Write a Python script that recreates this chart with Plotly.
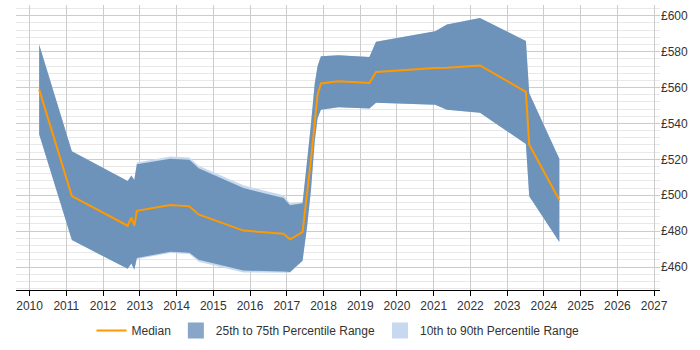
import plotly.graph_objects as go

years = [2010.26, 2011.15, 2012.67, 2012.77, 2012.85, 2012.92, 2013.83, 2014.35, 2014.60,
         2015.82, 2016.91, 2017.09, 2017.43, 2017.55, 2017.66, 2017.76, 2017.84, 2017.93,
         2018.41, 2019.25, 2019.43, 2021.04, 2021.36, 2022.26, 2023.51, 2023.60, 2024.42]

median = [559, 499.5, 483, 487.5, 483, 491.3, 494.5, 493.8, 489.3,
          480.3, 478.5, 475.4, 479.4, 500, 520, 540, 556, 562.3,
          563.5, 562.5, 568.7, 570.9, 571, 572.3, 557.6, 528.2, 497.3]

p25 = [534, 475, 459, 462, 458.5, 465, 468.5, 468, 464,
       458, 457.5, 457.2, 463.5, 482, 503, 530, 543, 547.7,
       549, 548.4, 551.6, 550.4, 547.7, 545.9, 528.6, 499.5, 473.9]

p75 = [584, 524.5, 508, 511, 508.5, 517.3, 520.4, 519.8, 515,
       504, 498.5, 494.4, 495.5, 517, 540, 562, 572, 577.4,
       578, 577, 585.5, 591.4, 595.1, 598.7, 586, 556.8, 520.4]

p10 = [534, 475, 459, 462, 458.5, 464.5, 467.8, 467.2, 463,
       457, 456.8, 456.8, 463.5, 482, 503, 530, 543, 547.7,
       549, 548.4, 551.6, 550.4, 547.7, 545.9, 528.6, 499.5, 473.9]

p90 = [584, 524.5, 508, 511, 508.5, 518.3, 521.6, 521.0, 516.5,
       505.5, 500.0, 495.6, 496.3, 517, 540, 562, 572, 577.4,
       578, 577, 585.5, 591.4, 595.1, 598.7, 586, 556.8, 520.4]

year_ticks = list(range(2010, 2028))
price_ticks = [460, 480, 500, 520, 540, 560, 580, 600]

FONT = "Liberation Sans, Arial, sans-serif"
C_MED = "#ff9900"
C_IQR = "#6d93bb"
C_DEC = "#c6d9ee"

fig = go.Figure()

# 10th-90th band
fig.add_trace(go.Scatter(x=years, y=p10, mode="lines", line=dict(width=0, color=C_DEC),
                         showlegend=False, hoverinfo="skip"))
fig.add_trace(go.Scatter(x=years, y=p90, mode="lines", line=dict(width=0, color=C_DEC),
                         fill="tonexty", fillcolor=C_DEC, showlegend=False))
# 25th-75th band
fig.add_trace(go.Scatter(x=years, y=p25, mode="lines", line=dict(width=0, color=C_IQR),
                         showlegend=False, hoverinfo="skip"))
fig.add_trace(go.Scatter(x=years, y=p75, mode="lines", line=dict(width=0, color=C_IQR),
                         fill="tonexty", fillcolor=C_IQR, showlegend=False))
# Median
fig.add_trace(go.Scatter(x=years, y=median, mode="lines",
                         line=dict(width=2, color=C_MED),
                         name="Median", legendrank=1))

# legend swatches for the bands
fig.add_trace(go.Scatter(x=[None], y=[None], mode="markers",
                         marker=dict(symbol="square", size=16, color="#88a6c8"),
                         name="25th to 75th Percentile Range", legendrank=2))
fig.add_trace(go.Scatter(x=[None], y=[None], mode="markers",
                         marker=dict(symbol="square", size=16, color=C_DEC),
                         name="10th to 90th Percentile Range", legendrank=3))

fig.update_layout(
    width=700, height=350,
    margin=dict(l=16, r=40, t=5, b=55),
    paper_bgcolor="white", plot_bgcolor="white",
    font=dict(family=FONT, size=12, color="#333333"),
    showlegend=True,
    legend=dict(orientation="h", x=0.5, xanchor="center", y=-0.142, yanchor="middle",
                font=dict(family=FONT, size=12, color="#333333"),
                itemwidth=30, traceorder="normal"),
    xaxis=dict(
        range=[2009.63, 2027.16],
        tickmode="array", tickvals=year_ticks, ticktext=[str(y) for y in year_ticks],
        showgrid=True, gridcolor="#cccccc", gridwidth=1,
        showline=True, linecolor="#000000", linewidth=1,
        ticks="outside", ticklen=5, tickcolor="#000000",
        zeroline=False, fixedrange=True,
        tickfont=dict(family=FONT, size=12, color="#333333"),
    ),
    yaxis=dict(
        range=[447.2, 606],
        side="right",
        tickmode="array", tickvals=price_ticks, ticktext=["£%d" % v for v in price_ticks],
        showgrid=True, gridcolor="#cccccc", gridwidth=1,
        minor=dict(dtick=4, tick0=0, showgrid=True, gridcolor="#e8e8e8", gridwidth=1),
        showline=False, zeroline=False, ticks="", fixedrange=True,
        tickfont=dict(family=FONT, size=12, color="#333333"),
    ),
)

fig.write_html("out.html")
